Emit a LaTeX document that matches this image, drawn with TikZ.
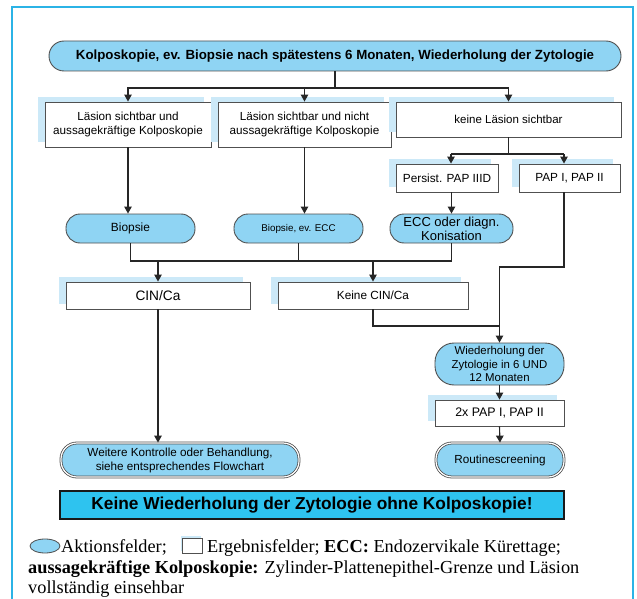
\documentclass[tikz,border=0pt]{standalone}
\usepackage{fontspec}
\setmainfont{Liberation Serif}
\setsansfont{Liberation Sans}
\usetikzlibrary{arrows.meta,shadows,shapes.geometric}

\definecolor{framecyan}{RGB}{43,179,230}
\definecolor{actfill}{RGB}{143,212,243}
\definecolor{shadeblue}{RGB}{204,233,248}
\definecolor{bannerfill}{RGB}{46,195,239}
\definecolor{edgegray}{RGB}{80,80,80}

\newcommand{\fs}[2]{\fontsize{#1}{#2}\selectfont}

\begin{document}
\begin{tikzpicture}[x=1pt,y=-1pt,
  every node/.style={inner sep=0pt, align=center},
  action/.style={draw=edgegray, fill=actfill, line width=0.9pt,
    rounded corners=14pt, minimum height=29pt},
  result/.style={draw=edgegray, fill=white, line width=0.9pt,
    general shadow={fill=shadeblue, shadow xshift=-7pt, shadow yshift=5pt}},
  final/.style={action, rounded corners=16pt, minimum height=34pt,
    double=white, double distance=1.2pt, line width=0.8pt},
  link/.style={line width=1.1pt, draw=black!85},
  arr/.style={link, -{Triangle[length=7pt,width=7.5pt]}},
  legend/.style={anchor=base west, font=\rmfamily\fs{18.3}{19}}
]
\useasboundingbox (0,0) rectangle (637,599);

% outer frame, open at the bottom
\draw[framecyan, line width=2pt] (12,600) -- (12,7) -- (633,7) -- (633,600);

% --- nodes ---
\node[action, minimum width=572pt, minimum height=30pt, rounded corners=15pt,
  font=\sffamily\bfseries\fs{13.3}{15}] (top) at (335,56)
  {Kolposkopie, ev. Biopsie nach spätestens 6 Monaten, Wiederholung der Zytologie};

\node[result, minimum width=166pt, minimum height=45pt, font=\sffamily\fs{11.7}{14}]
  (r1a) at (128,124.5) {Läsion sichtbar und\\aussagekräftige Kolposkopie};
\node[result, minimum width=173pt, minimum height=45pt, font=\sffamily\fs{11.7}{14}]
  (r1b) at (304.5,124.5) {Läsion sichtbar und nicht\\aussagekräftige Kolposkopie};
\node[result, minimum width=225pt, minimum height=35pt, font=\sffamily\fs{11.5}{14}]
  (r1c) at (508.5,119.5) {keine Läsion sichtbar};

\node[result, minimum width=102pt, minimum height=28pt, font=\sffamily\fs{11.8}{14}]
  (pers) at (447,178) {Persist. PAP IIID};
\node[result, minimum width=101pt, minimum height=28pt, font=\sffamily\fs{11.8}{14}]
  (pap) at (569.5,178) {PAP I, PAP II};

\node[action, minimum width=129pt, font=\sffamily\fs{11.9}{14}]
  (bio) at (130.5,228.5) {Biopsie};
\node[action, minimum width=129pt, font=\sffamily\fs{9.8}{12}]
  (bioecc) at (298.5,228.5) {Biopsie, ev. ECC};
\node[action, minimum width=123pt, font=\sffamily\fs{13}{14}]
  (ecc) at (451.5,228.5) {ECC oder diagn.\\Konisation};

\node[result, minimum width=184pt, minimum height=27pt, font=\sffamily\fs{13.7}{15}]
  (cin) at (158,295.5) {CIN/Ca};
\node[result, minimum width=190pt, minimum height=27pt, font=\sffamily\fs{11.8}{14}]
  (kcin) at (373,295.5) {Keine CIN/Ca};

\node[action, minimum width=129pt, minimum height=42pt, rounded corners=19pt,
  font=\sffamily\fs{11.4}{13.4}]
  (wied) at (499.5,364) {Wiederholung der\\Zytologie in 6 UND\\12 Monaten};
\node[result, minimum width=129pt, minimum height=26pt, font=\sffamily\fs{12.4}{14}]
  (pap2) at (499.5,413) {2x PAP I, PAP II};

\node[final, minimum width=238pt, font=\sffamily\fs{11.7}{14}]
  (weit) at (180,460) {Weitere Kontrolle oder Behandlung,\\siehe entsprechendes Flowchart};
\node[final, minimum width=128pt, font=\sffamily\fs{11.7}{14}]
  (rout) at (500,460) {Routinescreening};

\node[draw=black!90, fill=bannerfill, line width=2pt, minimum width=504pt,
  minimum height=28pt, font=\sffamily\bfseries\fs{17.3}{19}]
  (banner) at (312,505) {Keine Wiederholung der Zytologie ohne Kolposkopie!};

% --- connectors ---
\coordinate (j1) at (335,88);
\draw[link] (top.south) -- (j1);
\draw[arr] (j1) -| (r1a.north);
\draw[arr] (j1) -| (r1b.north);
\draw[arr] (j1) -| (r1c.north);

\draw[arr] (r1a.south) -- (r1a.south |- bio.north);
\draw[arr] (r1b.south) -- (r1b.south |- bioecc.north);

\coordinate (j2) at (508.5,154);
\coordinate (j2l) at (451,154);
\coordinate (j2r) at (564,154);
\draw[link] (r1c.south) -- (j2);
\draw[link] (j2l) -- (j2r);
\draw[arr] (j2l) -- (j2l |- pers.north);
\draw[arr] (j2r) -- (j2r |- pap.north);
\draw[arr] (ecc.north |- pers.south) -- (ecc.north);

\coordinate (mrow) at (0,261);
\draw[link] (bio.south) -- (bio.south |- mrow) -- (ecc.south |- mrow) -- (ecc.south);
\draw[link] (bioecc.south) -- (bioecc.south |- mrow);
\draw[arr] (cin.north |- mrow) -- (cin.north);
\draw[arr] (kcin.north |- mrow) -- (kcin.north);

\coordinate (pbend) at (564,267);
\coordinate (krow) at (0,326);
\draw[arr] (j2r |- pap.south) -- (pbend) -| (wied.north);
\draw[link] (kcin.south) |- (wied.north |- krow);

\draw[arr] (wied.south) -- (pap2.north);
\draw[arr] (pap2.south) -- (rout.north);
\draw[arr] (cin.south) -- (cin.south |- weit.north);

% --- legend ---
\node[ellipse, draw=edgegray, fill=actfill, line width=0.8pt,
  minimum width=30pt, minimum height=14pt] (legact) at (45,546) {};
\node[legend] (legacttxt) at (61,552) {Aktionsfelder;};
\node[draw=edgegray, fill=white, line width=0.8pt, minimum width=20pt, minimum height=15pt,
  general shadow={fill=shadeblue, shadow xshift=-2pt, shadow yshift=2pt}]
  (legres) at (192.5,545.5) {};
\node[legend] (legrestxt) at (207,552)
  {Ergebnisfelder; \textbf{ECC:} Endozervikale Kürettage;};
\node[legend] (legline2) at (28,573)
  {\textbf{aussagekräftige Kolposkopie:} Zylinder-Plattenepithel-Grenze und Läsion};
\node[legend] (legline3) at (28,593) {vollständig einsehbar};
\end{tikzpicture}
\end{document}
